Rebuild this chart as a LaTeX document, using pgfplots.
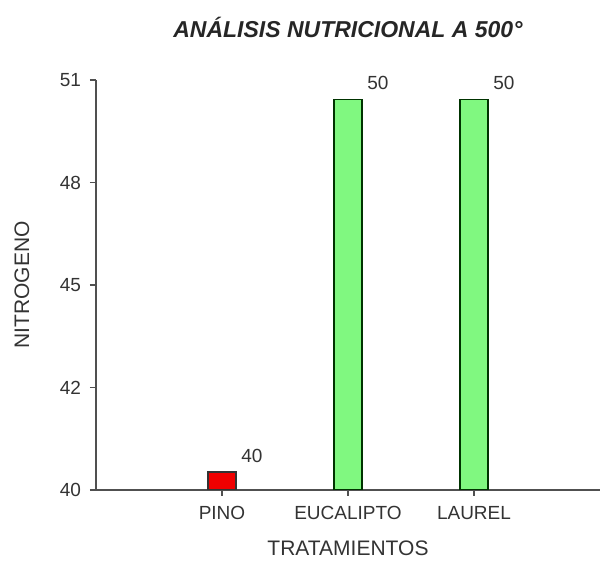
\documentclass[border=0pt]{standalone}
\usepackage{fontspec}
\setmainfont{Liberation Sans}
\usepackage{pgfplots}
\pgfplotsset{compat=1.18}
\definecolor{barred}{HTML}{F00000}
\definecolor{bargreen}{HTML}{80F880}
\definecolor{axgray}{HTML}{505050}
\definecolor{txtgray}{HTML}{333333}
\begin{document}
\begin{tikzpicture}
\path[use as bounding box] (-48pt,-35.5pt) rectangle (255pt,245pt);
\begin{axis}[
  at={(0,0)}, anchor=south west,
  scale only axis, width=252pt, height=205pt,
  xmin=-1, xmax=3, ymin=40, ymax=51,
  axis lines=left,
  axis line style={axgray, -, line width=0.6pt},
  xtick={0,1,2}, xticklabels={PINO,EUCALIPTO,LAUREL},
  ytick={40,42.75,45.5,48.25,51}, yticklabels={40,42,45,48,51},
  tick style={axgray, line width=0.6pt},
  tick align=outside, major tick length=3pt,
  /pgf/number format/assume math mode=true,
  ticklabel style={font=\fontsize{9.5}{11}\selectfont, text=txtgray},
  xticklabel style={yshift=-1.5pt},
  yticklabel style={xshift=-1pt},
  xlabel={TRATAMIENTOS},
  xlabel style={at={(axis description cs:0.5,-0.1415)}, anchor=center, font=\fontsize{10.5}{12}\selectfont, text=txtgray},
  ylabel={NITROGENO},
  ylabel style={at={(axis description cs:-0.147,0.5)}, anchor=center, rotate=0, font=\fontsize{10.5}{12}\selectfont, text=txtgray},
  title={\textbf{\textit{ANÁLISIS NUTRICIONAL A 500°}}},
  title style={at={(axis description cs:0.5,1.127)}, anchor=center, yshift=-6pt, font=\fontsize{11.5}{13}\selectfont, text=black!85},
  ybar, bar width=14pt, bar shift=0pt,
  clip=true,
  nodes near coords, point meta=explicit symbolic,
  nodes near coords style={anchor=center, xshift=15pt, yshift=8pt, font=\fontsize{9.5}{11}\selectfont, text=txtgray},
]
\addplot[fill=barred, draw=black!80, line width=0.7pt] coordinates {(0,40.48) [40]};
\addplot[fill=bargreen, draw=black!80!green, line width=0.7pt] coordinates {(1,50.48) [50] (2,50.48) [50]};
\end{axis}
\end{tikzpicture}
\end{document}
